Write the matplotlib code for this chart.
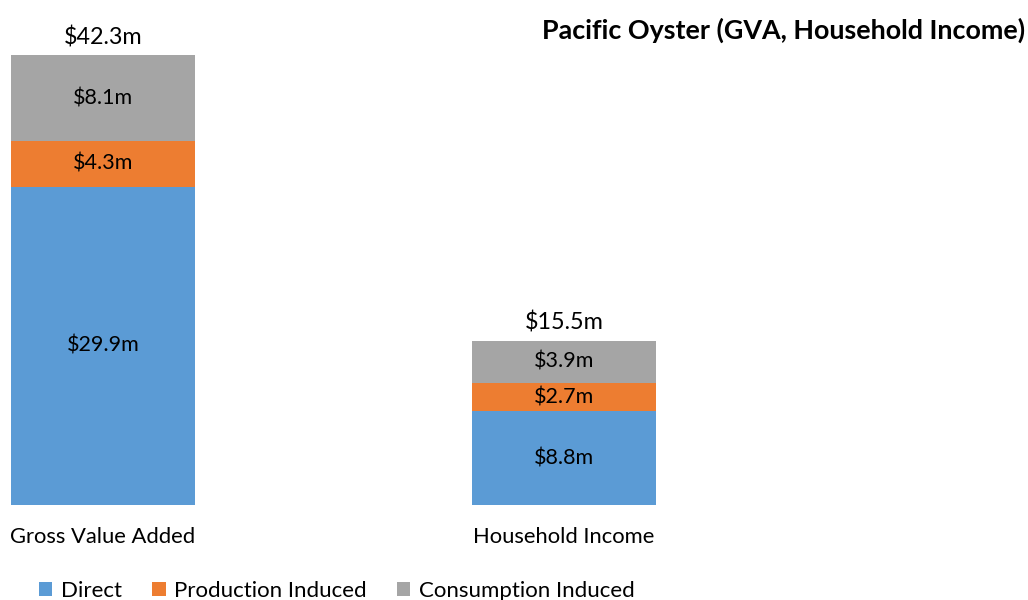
import numpy as np
import matplotlib.pyplot as plt

plt.rcParams['font.family'] = ['Lato', 'DejaVu Sans']

categories = ['Gross Value Added', 'Household Income']
direct = [29.9, 8.8]
production = [4.3, 2.7]
consumption = [8.1, 3.9]
totals = [42.3, 15.5]
series_names = ['Direct', 'Production Induced', 'Consumption Induced']
colors = ['#5B9BD5', '#ED7D31', '#A5A5A5']

fig = plt.figure(figsize=(10.28, 6.0), dpi=100)
ax = fig.add_axes([0, 1 - 505 / 600, 1, 478.8 / 600])

x = np.arange(len(categories))
width = 0.4
bottom = np.zeros(len(categories))
bars = []
for vals, name, col in zip([direct, production, consumption], series_names, colors):
    b = ax.bar(x, vals, width, bottom=bottom, color=col, label=name)
    bars.append(b)
    for xi, v, b0 in zip(x, vals, bottom):
        ax.text(xi, b0 + v / 2, f'${v:.1f}m', ha='center', va='center', fontsize=15.5, color='#000000')
    bottom += np.array(vals)

for xi, t in zip(x, totals):
    ax.text(xi, t + 0.6, f'${t:.1f}m', ha='center', va='bottom', fontsize=16.8)

ax.set_xlim(-103 / 461, 925 / 461)
ax.set_ylim(0, 45)
ax.axis('off')

for xi, c in zip(x, categories):
    ax.text(xi, -3.0, c, ha='center', va='center', fontsize=15.8)

fig.text(0.997, 1 - 30 / 600, 'Pacific Oyster (GVA, Household Income)', ha='right', va='center',
         fontsize=19.4, fontweight='bold')

fig.legend(handles=bars, labels=series_names, loc='center', bbox_to_anchor=(337 / 1028, 1 - 591 / 600),
           ncol=3, frameon=False, fontsize=16, handlelength=0.6, handleheight=0.6,
           handletextpad=0.4, columnspacing=1.35)

fig.savefig('out.png', dpi=100)
